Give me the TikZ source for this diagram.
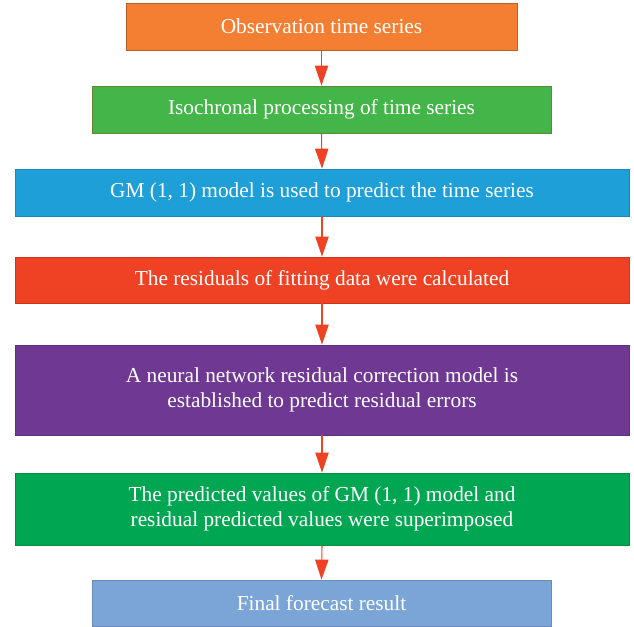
\documentclass[tikz,border=0pt]{standalone}
\usepackage{fontspec}
\setmainfont{Liberation Serif}
\usetikzlibrary{arrows.meta}
\definecolor{cOrange}{HTML}{F47F32}
\definecolor{cGreen}{HTML}{44B549}
\definecolor{cBlue}{HTML}{1E9FD8}
\definecolor{cRed}{HTML}{EF4123}
\definecolor{cPurple}{HTML}{6E3893}
\definecolor{cGreenB}{HTML}{00A652}
\definecolor{cLight}{HTML}{7BA5D7}
\definecolor{cArrow}{HTML}{EF4123}
\tikzset{
  box/.style={rectangle, inner sep=0pt, text=white, align=center,
    font=\fontsize{16}{19}\selectfont, line width=0.6pt},
  flow/.style={draw=cArrow, line width=0.8pt, -{Triangle[length=15pt,width=10pt]}}
}
\begin{document}
\begin{tikzpicture}[x=0.75pt,y=-0.75pt]
\useasboundingbox (0,0) rectangle (634,626);
\node[box, fill=cOrange, draw=cOrange!75!black, minimum width=391*0.75pt, minimum height=47*0.75pt] (n1) at (321.5,26.5) {Observation time series};
\node[box, fill=cGreen, draw=cGreen!70!cOrange!80!black, minimum width=459*0.75pt, minimum height=47*0.75pt] (n2) at (321.5,109.5) {Isochronal processing of time series};
\node[box, fill=cBlue, draw=cBlue!85!black, minimum width=614*0.75pt, minimum height=47*0.75pt] (n3) at (322,192.5) {GM (1, 1) model is used to predict the time series};
\node[box, fill=cRed, draw=cRed!85!black, minimum width=614*0.75pt, minimum height=46*0.75pt] (n4) at (322,280) {The residuals of fitting data were calculated};
\node[box, fill=cPurple, draw=cPurple!85!black, minimum width=614*0.75pt, minimum height=90*0.75pt] (n5) at (322,390) {A neural network residual correction model is\\established to predict residual errors};
\node[box, fill=cGreenB, draw=cGreenB!85!black, minimum width=614*0.75pt, minimum height=72*0.75pt] (n6) at (322,509) {The predicted values of GM (1, 1) model and\\residual predicted values were superimposed};
\node[box, fill=cLight, draw=cLight!85!black, minimum width=459*0.75pt, minimum height=46*0.75pt] (n7) at (321.5,603) {Final forecast result};
\draw[flow] (n1.south) -- (n2.north);
\draw[flow] (n2.south) -- (n3.north);
\draw[flow] (n3.south) -- (n4.north);
\draw[flow] (n4.south) -- (n5.north);
\draw[flow] (n5.south) -- (n6.north);
\draw[flow] (n6.south) -- (n7.north);
\end{tikzpicture}
\end{document}
